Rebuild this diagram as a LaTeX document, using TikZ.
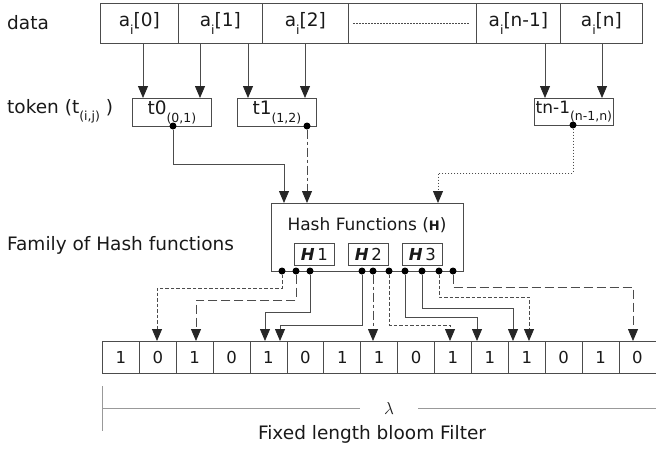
\documentclass[tikz,border=0pt]{standalone}
\usepackage{fontspec}
\setmainfont{DejaVu Sans}
\usetikzlibrary{arrows.meta}
\newcommand\lowsub[1]{\raisebox{-0.4em}{\fontsize{12.5}{12.5}\selectfont #1}}
\colorlet{wire}{black!70}
\tikzset{
  box/.style={draw=wire, line width=0.8pt, inner sep=0pt, anchor=north west},
  link/.style={draw=wire, line width=0.8pt},
  tip/.style={-{Triangle[length=12pt,width=10pt,color=black!85]}},
  dot/.style={circle, fill=black, inner sep=0pt, minimum size=7pt},
  fine/.style={dash pattern=on 1.5pt off 1.5pt},
  shortdash/.style={dash pattern=on 3.5pt off 2pt},
  longdash/.style={dash pattern=on 9pt off 4pt},
  dashdot/.style={dash pattern=on 9pt off 3pt on 3pt off 3pt},
}
\begin{document}
\begin{tikzpicture}[x=1pt,y=-1pt,font=\fontsize{18.5}{21}\selectfont,text=black!90]
  \useasboundingbox (0,0) rectangle (656,448);
  \node[anchor=west,inner sep=0pt] (ldata) at (7,23) {data};
  \node[anchor=west,inner sep=0pt] (ltoken) at (7,111) {token (t\lowsub{(i,j)} )};
  \node[anchor=west,inner sep=0pt] (lfamily) at (7,245) {Family of Hash functions};
  % data row
  \foreach \n/\x/\w/\t in {d0/100/78/{a\lowsub{i}[0]}, d1/178/84/{a\lowsub{i}[1]},
                           d2/262/86/{a\lowsub{i}[2]}, d3/348/128/{},
                           dm/476/84/{a\lowsub{i}[n-1]}, dn/560/82/{a\lowsub{i}[n]}}{
    \node[box,minimum width=\w pt,minimum height=40pt] (\n) at (\x,3) {\t};}
  \draw[link,fine,line width=0.6pt] ([xshift=5pt]d3.west) -- ([xshift=-8pt]d3.east);
  % tokens
  \node[box,minimum width=79pt,minimum height=28pt] (t0) at (132,98) {t0\lowsub{(0,1)}};
  \node[box,minimum width=79pt,minimum height=28pt] (t1) at (237,98) {t1\lowsub{(1,2)}};
  \node[box,minimum width=79pt,minimum height=27pt] (tn) at (534,98)
    {\fontsize{17}{17}\selectfont tn-1\lowsub{(n-1,n)}};
  \foreach \s/\t/\x in {d0/t0/143, d1/t0/200, d1/t1/248, d2/t1/305, dm/tn/545, dn/tn/602}{
    \draw[link,tip] (\s.south -| \x,0) -- (\t.north -| \x,0);}
  \node[dot] (t0o) at (173,126) {};
  \node[dot] (t1o) at (307,126) {};
  \node[dot] (tno) at (573,125) {};
  % hash functions
  \node[box,minimum width=192pt,minimum height=68pt] (hash) at (271,203) {};
  \node[font=\fontsize{17}{20}\selectfont] (hlbl) at (367,225)
    {Hash Functions ({\bfseries\fontsize{13}{13}\selectfont H})};
  \foreach \k/\x in {1/294, 2/348, 3/402}{
    \node[box,minimum width=40pt,minimum height=22pt,font=\fontsize{16.5}{16.5}\selectfont]
      (h\k) at (\x,243) {\textbf{\textit{H}}\,\k};}
  \coordinate (hin1) at (284,203);
  \coordinate (hin2) at (307,203);
  \coordinate (hin3) at (438,203);
  \draw[link,tip] (t0o) |- (hin1 |- 0,164) -- (hin1);
  \draw[link,tip,dashdot] (t1o) -- (hin2);
  \draw[link,tip,fine] (tno) |- (hin3 |- 0,173) -- (hin3);
  % bloom filter
  \foreach \v [count=\k] in {1,0,1,0,1,0,1,1,0,1,1,1,0,1,0}{
    \node[box,minimum width=36.9pt,minimum height=32pt,font=\fontsize{16.5}{16.5}\selectfont]
      (b\k) at ({102+36.9*(\k-1)},341) {\v};}
  \foreach \k/\x in {1/282, 2/296, 3/310, 4/362, 5/373, 6/389, 7/405, 8/422, 9/439, 10/453}{
    \node[dot] (o\k) at (\x,271) {};}
  \foreach \k/\y/\x/\s in {1/288/157/shortdash, 2/300/196/longdash, 3/312/265/solid,
                           4/325/280/solid, 6/325/450/shortdash, 7/317/477/solid,
                           8/308/513/solid, 9/297/529/shortdash, 10/287/633/longdash}{
    \coordinate (in\k) at (\x,341);
    \draw[link,tip,\s] (o\k) |- (in\k |- 0,\y) -- (in\k);}
  \draw[link,tip,dashdot] (o5) -- (o5 |- b8.north);
  % length
  \draw[black!40] (102,386) -- (102,431);
  \node[inner xsep=24pt] (lam) at (389,408) {$\lambda$};
  \draw[black!40] (102,408) -- (lam.west);
  \draw[black!40] (lam.east) -- (656,408);
  \node (caption) at (372,434) {Fixed length bloom Filter};
\end{tikzpicture}
\end{document}
